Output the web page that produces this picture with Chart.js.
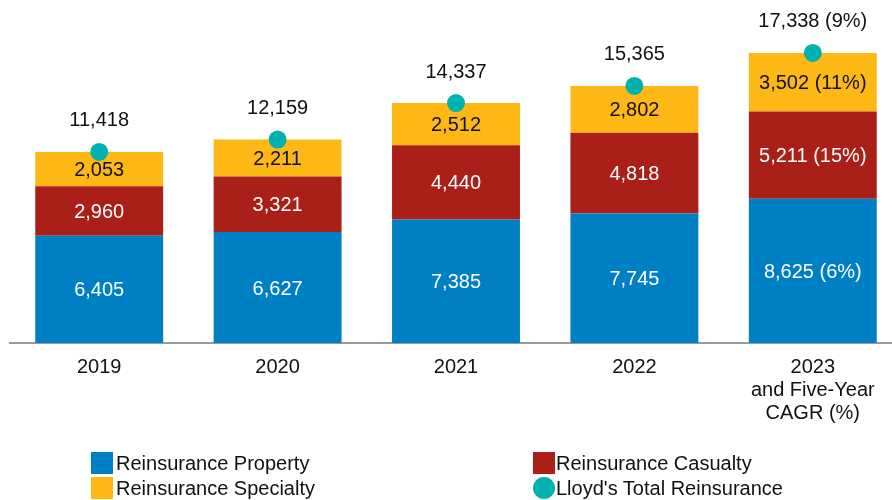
<!DOCTYPE html>
<html>
<head>
<meta charset="utf-8">
<script src="https://cdn.jsdelivr.net/npm/chart.js@4.4.1/dist/chart.umd.min.js"></script>
<style>
  html, body { margin: 0; padding: 0; background: #fff; width: 892px; height: 500px; overflow: hidden; }
  #wrap { position: relative; width: 892px; height: 500px; overflow: hidden; }
  #box { position: absolute; left: 0; top: 0; width: 902px; height: 500px; }
  .lg { position: absolute; font: 20px "Liberation Sans", Arial, sans-serif; color: #111; line-height: 22px; white-space: nowrap; }
  .sw { position: absolute; width: 22px; height: 22px; }
</style>
</head>
<body>
<div id="wrap">
  <div id="box"><canvas id="chart" width="902" height="500" style="width:902px;height:500px"></canvas></div>
  <div class="sw" style="left:91px;top:452px;background:#0080C4"></div>
  <div class="lg" style="left:116px;top:452px">Reinsurance Property</div>
  <div class="sw" style="left:91px;top:477px;background:#FDB815"></div>
  <div class="lg" style="left:116px;top:477px">Reinsurance Specialty</div>
  <div class="sw" style="left:533px;top:452px;background:#AA1F17"></div>
  <div class="lg" style="left:556px;top:452px">Reinsurance Casualty</div>
  <div class="sw" style="left:533px;top:477px;background:#00B2AF;border-radius:50%"></div>
  <div class="lg" style="left:556px;top:477px">Lloyd's Total Reinsurance</div>
</div>
<script>
const years = [["2019"], ["2020"], ["2021"], ["2022"], ["2023", "and Five-Year", "CAGR (%)"]];
const property = [6405, 6627, 7385, 7745, 8625];
const casualty = [2960, 3321, 4440, 4818, 5211];
const specialty = [2053, 2211, 2512, 2802, 3502];
const totals = [11418, 12159, 14337, 15365, 17338];
// five-year CAGR shown on the last column only
const propertyCagr = [null, null, null, null, 6];
const casualtyCagr = [null, null, null, null, 15];
const specialtyCagr = [null, null, null, null, 11];
const totalCagr = [null, null, null, null, 9];

const FONT = '"Liberation Sans", Arial, sans-serif';

function fmt(v, cagr) {
    let s = v.toLocaleString("en-US");
    if (cagr !== null) s += " (" + cagr + "%)";
    return s;
}

const labelPlugin = {
    id: "valueLabels",
    afterDatasetsDraw(chart) {
        const ctx = chart.ctx;
        ctx.save();
        ctx.font = "20px " + FONT;
        ctx.textAlign = "center";
        ctx.textBaseline = "middle";
        chart.data.datasets.forEach((ds, i) => {
            const meta = chart.getDatasetMeta(i);
            meta.data.forEach((el, j) => {
                if (ds.type === "line") {
                    ctx.fillStyle = "#111";
                    ctx.fillText(fmt(ds.data[j], ds.cagr[j]), el.x, el.y - 31);
                } else {
                    ctx.fillStyle = ds.labelColor;
                    ctx.fillText(fmt(ds.data[j], ds.cagr[j]), el.x, (el.y + el.base) / 2 + 1.5);
                }
            });
        });
        ctx.restore();
    }
};

new Chart(document.getElementById("chart"), {
    type: "bar",
    data: {
        labels: years,
        datasets: [
            {
                type: "line",
                label: "Lloyd's Total Reinsurance",
                data: totals,
                cagr: totalCagr,
                stack: "line",
                showLine: false,
                pointRadius: 9,
                pointBackgroundColor: "#00B2AF",
                pointBorderWidth: 0,
                order: 0
            },
            {
                label: "Reinsurance Property",
                data: property,
                cagr: propertyCagr,
                backgroundColor: "#0080C4",
                labelColor: "#fff",
                stack: "bar",
                order: 1
            },
            {
                label: "Reinsurance Casualty",
                data: casualty,
                cagr: casualtyCagr,
                backgroundColor: "#AA1F17",
                labelColor: "#fff",
                stack: "bar",
                order: 1
            },
            {
                label: "Reinsurance Specialty",
                data: specialty,
                cagr: specialtyCagr,
                backgroundColor: "#FDB815",
                labelColor: "#111",
                stack: "bar",
                order: 1
            }
        ]
    },
    options: {
        responsive: false,
        maintainAspectRatio: false,
        animation: false,
        layout: { autoPadding: false, padding: { left: 10, right: 0, top: 0, bottom: 0 } },
        datasets: { bar: { barPercentage: 0.717, categoryPercentage: 1 } },
        plugins: { legend: { display: false }, tooltip: { enabled: false } },
        scales: {
            x: {
                stacked: true,
                grid: { display: false, drawTicks: false },
                border: { display: true, color: "#9a9a9a", width: 2 },
                ticks: { color: "#111", font: { size: 20, family: FONT, lineHeight: 1.15 }, padding: 13, maxRotation: 0 },
                afterFit(scale) { scale.height = 157; }
            },
            y: {
                stacked: true,
                display: false,
                min: 0,
                max: 20500
            }
        }
    },
    plugins: [labelPlugin]
});
</script>
</body>
</html>
